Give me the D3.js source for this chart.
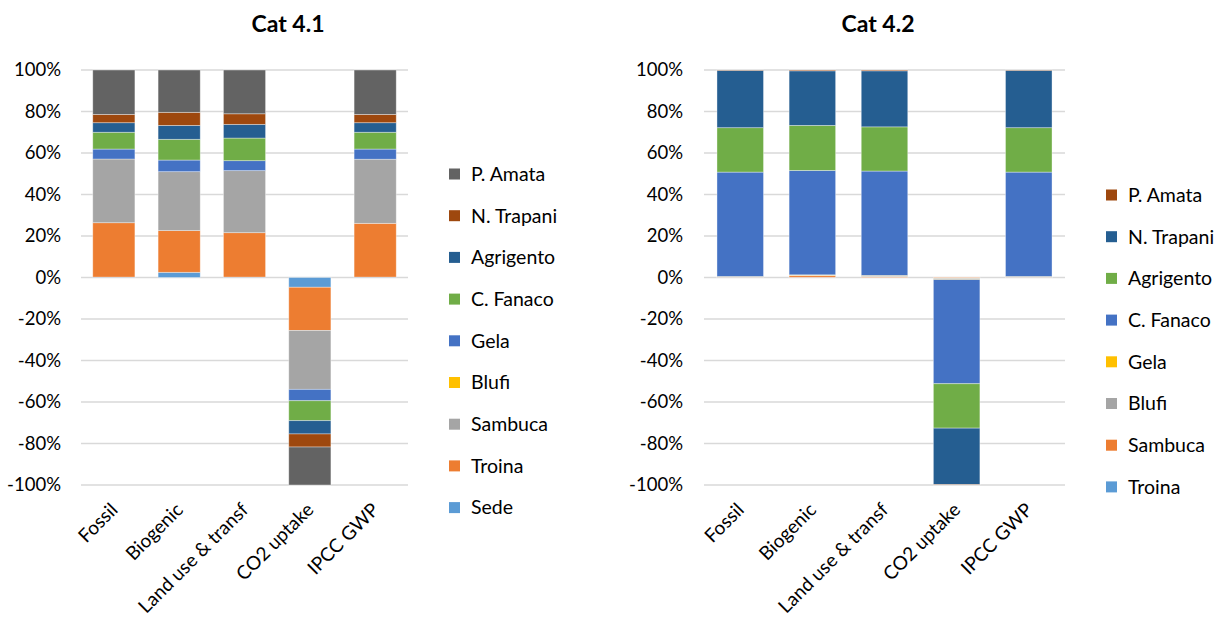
<!DOCTYPE html>
<html>
<head>
<meta charset="utf-8">
<script src="https://cdn.jsdelivr.net/npm/d3@7"></script>
<style>
  html, body { margin: 0; padding: 0; background: #fff; }
  svg { display: block; font-family: Lato, "Open Sans", sans-serif; }
</style>
</head>
<body>
<svg id="chart" width="1226" height="621"></svg>
<script>
// Categories shared by both panels
const categories = ["Fossil", "Biogenic", "Land use & transf", "CO2 uptake", "IPCC GWP"];
const yTicks = [-1, -0.8, -0.6, -0.4, -0.2, 0, 0.2, 0.4, 0.6, 0.8, 1];

// Cat 4.1 — series in stacking order (bottom to top), shares in %
const seriesA = ["Sede", "Troina", "Sambuca", "Blufi", "Gela", "C. Fanaco", "Agrigento", "N. Trapani", "P. Amata"];
const colorsA = ["#5B9BD5", "#ED7D31", "#A5A5A5", "#FFC000", "#4472C4", "#70AD47", "#255E91", "#9E480E", "#636363"];
const sedeA      = [0.2, 2.5, 0.2, -4.7, 0.2];
const troinaA    = [26.2, 20.1, 21.4, -20.8, 25.9];
const sambucaA   = [30.7, 28.4, 29.9, -28.4, 30.9];
const blufiA     = [0, 0, 0, 0, 0];
const gelaA      = [4.8, 5.6, 4.8, -5.5, 4.9];
const fanacoA    = [8.1, 10.0, 10.9, -9.6, 8.1];
const agrigentoA = [4.6, 6.7, 6.6, -6.4, 4.6];
const trapaniA   = [4.0, 6.3, 5.1, -6.3, 4.0];
const amataA     = [21.4, 20.4, 21.1, -18.3, 21.4];

// Cat 4.2 — series in stacking order (bottom to top), shares in %
const seriesB = ["Troina", "Sambuca", "Blufi", "Gela", "C. Fanaco", "Agrigento", "N. Trapani", "P. Amata"];
const colorsB = ["#5B9BD5", "#ED7D31", "#A5A5A5", "#FFC000", "#4472C4", "#70AD47", "#255E91", "#9E480E"];
const troinaB    = [0, 0.1, 0, 0, 0];
const sambucaB   = [0.1, 0.8, 0.3, -0.3, 0.1];
const blufiB     = [0.2, 0.2, 0.4, -0.4, 0.2];
const gelaB      = [0.2, 0.2, 0.3, -0.3, 0.2];
const fanacoB    = [50.3, 50.3, 50.3, -50.2, 50.3];
const agrigentoB = [21.4, 21.7, 21.3, -21.4, 21.4];
const trapaniB   = [27.6, 26.3, 27.0, -27.2, 27.6];
const amataB     = [0.2, 0.4, 0.4, -0.2, 0.2];

const valuesA = [sedeA, troinaA, sambucaA, blufiA, gelaA, fanacoA, agrigentoA, trapaniA, amataA];
const valuesB = [troinaB, sambucaB, blufiB, gelaB, fanacoB, agrigentoB, trapaniB, amataB];

const svg = d3.select("#chart");
const TICK_FONT = 18.5;
const CAT_FONT = 19;
const LEGEND_FONT = 19.5;
const pct = d3.formatLocale({ decimal: ".", thousands: ",", grouping: [3], currency: ["", ""], minus: "-" }).format(".0%");

function drawPanel(opts) {
  const { title, titleX, series, colors, values, x0, x1, legendX, legendY0, tickRight } = opts;
  const yTop = 70, yBot = 485;

  const rows = categories.map((c, i) => {
    const r = { category: c };
    series.forEach((s, k) => { r[s] = values[k][i] / 100; });
    return r;
  });

  const stacked = d3.stack().keys(series).offset(d3.stackOffsetDiverging)(rows);

  const x = d3.scaleBand().domain(categories).range([x0, x1]).paddingInner(0.355).paddingOuter(0.18);
  const y = d3.scaleLinear().domain([-1, 1]).range([yBot, yTop]);

  const g = svg.append("g");

  // horizontal gridlines
  g.append("g").selectAll("line").data(yTicks).join("line")
    .attr("x1", x0).attr("x2", x1)
    .attr("y1", d => y(d)).attr("y2", d => y(d))
    .attr("stroke", "#D9D9D9").attr("stroke-width", 1.4);

  // y axis labels
  const yAxis = d3.axisLeft(y).tickValues(yTicks).tickFormat(pct).tickSize(0).tickPadding(0);
  const ya = g.append("g").attr("transform", `translate(${tickRight},0)`).call(yAxis);
  ya.select(".domain").remove();
  ya.selectAll("text").attr("font-size", TICK_FONT).attr("fill", "#000").attr("font-family", "Lato, sans-serif");

  // stacked bars
  g.append("g").selectAll("g").data(stacked).join("g")
    .attr("fill", (d, i) => colors[i])
    .selectAll("rect").data(d => d).join("rect")
    .attr("x", d => x(d.data.category))
    .attr("width", x.bandwidth())
    .attr("y", d => y(Math.max(d[0], d[1])))
    .attr("height", d => Math.abs(y(d[0]) - y(d[1])))
    .attr("stroke", "#ffffff").attr("stroke-opacity", 0.45).attr("stroke-width", 0.8);

  // rotated category labels
  const xa = g.append("g").attr("transform", `translate(0,${yBot})`)
    .call(d3.axisBottom(x).tickSize(0).tickPadding(0));
  xa.select(".domain").remove();
  xa.selectAll("text")
    .attr("font-size", CAT_FONT).attr("fill", "#000").attr("font-family", "Lato, sans-serif")
    .attr("text-anchor", "end")
    .attr("dy", null)
    .attr("transform", "translate(5,26) rotate(-45)");

  // title
  g.append("text").attr("x", titleX).attr("y", 32).attr("text-anchor", "middle")
    .attr("font-size", 23).attr("font-weight", "bold").attr("fill", "#000").text(title);

  // legend, listed top to bottom in reverse stacking order
  const legendItems = series.map((s, i) => ({ name: s, color: colors[i] })).reverse();
  const lg = g.append("g").selectAll("g").data(legendItems).join("g")
    .attr("transform", (d, i) => `translate(${legendX},${legendY0 + i * 41.7})`);
  lg.append("rect").attr("x", 0).attr("y", -5.5).attr("width", 11).attr("height", 11).attr("fill", d => d.color);
  lg.append("text").attr("x", 22).attr("y", 0).attr("dy", "0.35em")
    .attr("font-size", LEGEND_FONT).attr("fill", "#000").text(d => d.name);
}

drawPanel({
  title: "Cat 4.1", titleX: 288, series: seriesA, colors: colorsA, values: valuesA,
  x0: 81, x1: 408, legendX: 449, legendY0: 174, tickRight: 61
});

drawPanel({
  title: "Cat 4.2", titleX: 878, series: seriesB, colors: colorsB, values: valuesB,
  x0: 704, x1: 1065, legendX: 1106, legendY0: 195, tickRight: 683
});
</script>
</body>
</html>
